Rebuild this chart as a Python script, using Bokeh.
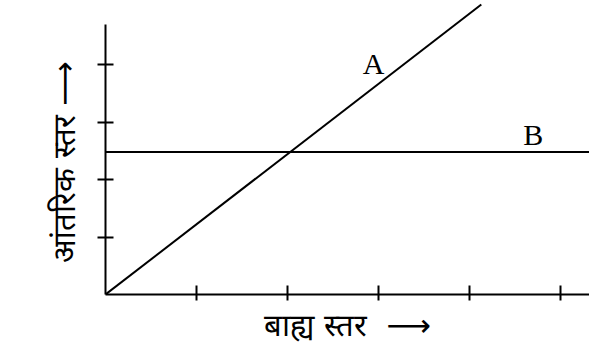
from bokeh.plotting import figure
from bokeh.models import Range1d, FixedTicker, Label
from bokeh.embed import file_html
from bokeh.resources import INLINE

# data
x_ticks = [1, 2, 3, 4, 5]
y_ticks = [1, 2, 3, 4]
line_a_x = [0, 4.13]
line_a_y = [0, 5.05]
line_b_x = [0, 5.32]
line_b_y = [2.48, 2.48]
label_a = ("A", 2.945, 4.03)
label_b = ("B", 4.70, 2.79)
x_title = "बाह्य स्तर\u00a0\u00a0⟶"
y_title = "आंतरिक स्तर\u00a0⟶\u00a0\u00a0\u00a0"

p = figure(width=589, height=345, output_backend="svg", toolbar_location=None,
           x_range=Range1d(0, 5.319), y_range=Range1d(0, 5.12),
           min_border_left=105, min_border_bottom=48, min_border_top=0, min_border_right=0)
p.outline_line_color = None
p.grid.visible = False
p.background_fill_color = "white"
p.border_fill_color = "white"

p.xaxis.ticker = FixedTicker(ticks=x_ticks)
p.yaxis.ticker = FixedTicker(ticks=y_ticks)
for ax in (p.xaxis[0], p.yaxis[0]):
    ax.axis_line_color = "black"
    ax.axis_line_width = 2
    ax.major_tick_line_color = "black"
    ax.major_tick_line_width = 2
    ax.minor_tick_line_color = None
    ax.major_label_text_font_size = "0px"
    ax.major_label_text_alpha = 0
    ax.major_label_standoff = 0
    ax.axis_label_text_font = "DejaVu Sans"
    ax.axis_label_text_font_size = "31px"
    ax.axis_label_text_font_style = "normal"
    ax.axis_label_text_color = "black"
p.xaxis.major_tick_in = 9
p.xaxis.major_tick_out = 6
p.yaxis.major_tick_in = 8
p.yaxis.major_tick_out = 8
p.yaxis.bounds = (0, 4.71)
p.xaxis.axis_label = x_title
p.yaxis.axis_label = y_title
p.xaxis.axis_label_standoff = 6
p.yaxis.axis_label_standoff = 16

p.line(line_a_x, line_a_y, line_color="black", line_width=2)
p.line(line_b_x, line_b_y, line_color="black", line_width=2)

for txt, lx, ly in (label_a, label_b):
    p.add_layout(Label(x=lx, y=ly, text=txt, text_font="Liberation Serif",
                       text_font_size="30px", text_align="center",
                       text_baseline="middle", text_color="black"))

open("out.html", "w").write(file_html(p, INLINE))
